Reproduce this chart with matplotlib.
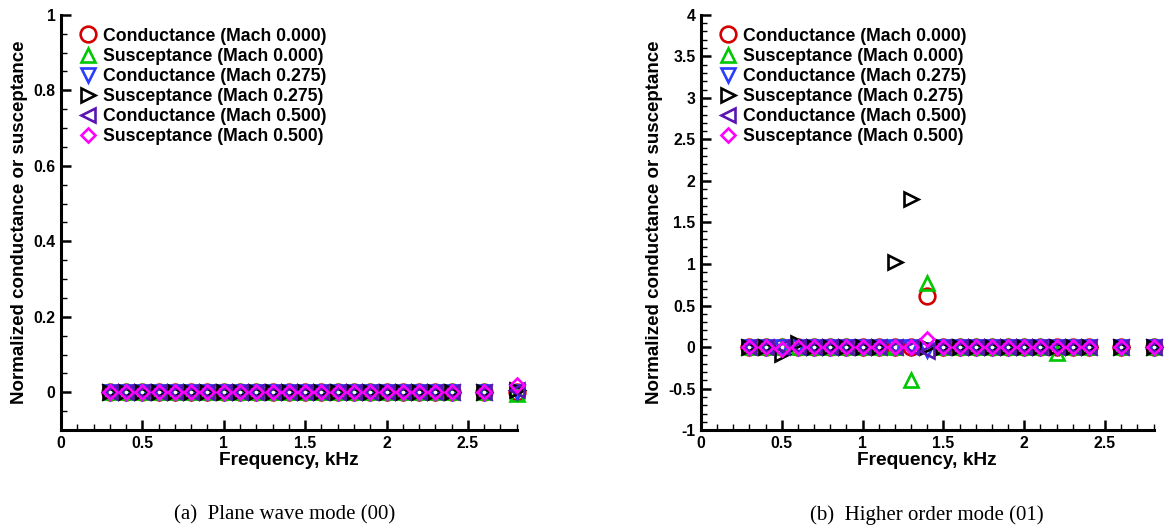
import matplotlib
matplotlib.use("Agg")
import matplotlib.pyplot as plt
from matplotlib.ticker import MultipleLocator, FuncFormatter

freq = [0.3, 0.4, 0.5, 0.6, 0.7, 0.8, 0.9, 1.0, 1.1, 1.2, 1.3, 1.4, 1.5, 1.6,
        1.7, 1.8, 1.9, 2.0, 2.1, 2.2, 2.3, 2.4, 2.6, 2.8]

labels = ["Conductance (Mach 0.000)", "Susceptance (Mach 0.000)",
          "Conductance (Mach 0.275)", "Susceptance (Mach 0.275)",
          "Conductance (Mach 0.500)", "Susceptance (Mach 0.500)"]

# Panel (a): plane wave mode (00)
a_cond_m0   = [0, 0, 0, 0, 0, 0, 0, 0, 0, 0, 0, 0, 0, 0, 0, 0, 0, 0, 0, 0, 0, 0, 0, 0.0]
a_susc_m0   = [0, 0, 0, 0, 0, 0, 0, 0, 0, 0, 0, 0, 0, 0, 0, 0, 0, 0, 0, 0, 0, 0, 0, -0.005]
a_cond_m275 = [0, 0, 0, 0, 0, 0, 0, 0, 0, 0, 0, 0, 0, 0, 0, 0, 0, 0, 0, 0, 0, 0, 0, 0.0]
a_susc_m275 = [0, 0, 0, 0, 0, 0, 0, 0, 0, 0, 0, 0, 0, 0, 0, 0, 0, 0, 0, 0, 0, 0, 0, 0.005]
a_cond_m500 = [0, 0, 0, 0, 0, 0, 0, 0, 0, 0, 0, 0, 0, 0, 0, 0, 0, 0, 0, 0, 0, 0, 0, 0.005]
a_susc_m500 = [0, 0, 0, 0, 0, 0, 0, 0, 0, 0, 0, 0, 0, 0, 0, 0, 0, 0, 0, 0, 0, 0, 0, 0.02]

# Panel (b): higher order mode (01)
b_cond_m0   = [0, 0, 0, 0, 0, 0, 0, 0, 0, 0, 0, 0.61, 0, 0, 0, 0, 0, 0, 0, 0, 0, 0, 0, 0]
b_susc_m0   = [0, 0, 0, 0, 0, 0, 0, 0, 0, 0, -0.40, 0.77, 0, 0, 0, 0, 0, 0, 0, -0.07, 0, 0, 0, 0]
b_cond_m275 = [0, 0, 0, 0, 0, 0, 0, 0, 0, 0, 0, -0.03, 0, 0, 0, 0, 0, 0, 0, 0, 0, 0, 0, 0]
b_susc_m275 = [0, 0, -0.08, 0.05, 0, 0, 0, 0, 0, 1.03, 1.78, 0, 0, 0, 0, 0, 0, 0, 0, 0, 0, 0, 0, 0]
b_cond_m500 = [0, 0, 0, 0, 0, 0, 0, 0, 0, 0, 0, -0.05, 0, 0, 0, 0, 0, 0, 0, 0, 0, 0, 0, 0]
b_susc_m500 = [0, 0, -0.02, 0, 0, 0, 0, 0, 0, 0, 0, 0.10, 0, 0, 0, 0, 0, 0, 0, 0, 0, 0, 0, 0]

styles = [("o", "#d40000", 11.3), ("^", "#00c800", 10.0), ("v", "#2a3cff", 10.0),
          (">", "#000000", 10.0), ("<", "#5a14b4", 10.0), ("D", "#ff00ff", 7.6)]

plt.rcParams["font.family"] = ["Liberation Sans", "DejaVu Sans"]
plt.rcParams["font.weight"] = "bold"

fig = plt.figure(figsize=(11.66, 5.31), dpi=100)
axa = fig.add_axes([0.0523, 0.190, 0.3909, 0.782])
axb = fig.add_axes([0.6012, 0.190, 0.3881, 0.782])

def fmt(v, pos):
    s = ("%.2f" % v).rstrip("0").rstrip(".")
    if s == "-0":
        s = "0"
    return s

def setup(ax, series, ylim, ymaj, ymin):
    for vals, (m, c, ms), lab in zip(series, styles, labels):
        ax.plot(freq, vals, linestyle="none", marker=m, markersize=ms,
                markerfacecolor="none", markeredgecolor=c, markeredgewidth=1.9,
                label=lab, clip_on=False)
    ax.set_xlim(0, 2.8)
    ax.set_ylim(*ylim)
    ax.spines["top"].set_visible(False)
    ax.spines["right"].set_visible(False)
    ax.spines["left"].set_linewidth(2.2)
    ax.spines["bottom"].set_linewidth(2.2)
    ax.xaxis.set_major_locator(MultipleLocator(0.5))
    ax.xaxis.set_minor_locator(MultipleLocator(0.1))
    ax.yaxis.set_major_locator(MultipleLocator(ymaj))
    ax.yaxis.set_minor_locator(MultipleLocator(ymin))
    ax.xaxis.set_major_formatter(FuncFormatter(fmt))
    ax.yaxis.set_major_formatter(FuncFormatter(fmt))
    ax.tick_params(which="major", direction="in", length=7.5, width=1.8,
                   labelsize=11.3, pad=4)
    ax.tick_params(which="minor", direction="in", length=4.5, width=1.0)
    for t in ax.get_xticklabels() + ax.get_yticklabels():
        t.set_fontweight("bold")
    ax.set_xlabel("Frequency, kHz", fontsize=13.8, fontweight="bold", labelpad=1)
    ax.set_ylabel("Normalized conductance or susceptance", fontsize=13.5,
                  fontweight="bold", labelpad=4)
    leg = ax.legend(loc="upper left", bbox_to_anchor=(0.026, 0.9865), frameon=False,
                    fontsize=12.7, handlelength=0.9, handletextpad=0.4,
                    labelspacing=0.18, borderaxespad=0.0)
    for t in leg.get_texts():
        t.set_fontweight("bold")

setup(axa, [a_cond_m0, a_susc_m0, a_cond_m275, a_susc_m275, a_cond_m500, a_susc_m500],
      (-0.1, 1.0), 0.2, 0.05)
setup(axb, [b_cond_m0, b_susc_m0, b_cond_m275, b_susc_m275, b_cond_m500, b_susc_m500],
      (-1.0, 4.0), 0.5, 0.1)

fig.text(0.2445, 0.030, "(a)  Plane wave mode (00)", family="Liberation Serif",
         fontweight="normal", fontsize=15, ha="center", va="center")
fig.text(0.7945, 0.030, "(b)  Higher order mode (01)", family="Liberation Serif",
         fontweight="normal", fontsize=15, ha="center", va="center")

fig.savefig("out.png", dpi=100)
